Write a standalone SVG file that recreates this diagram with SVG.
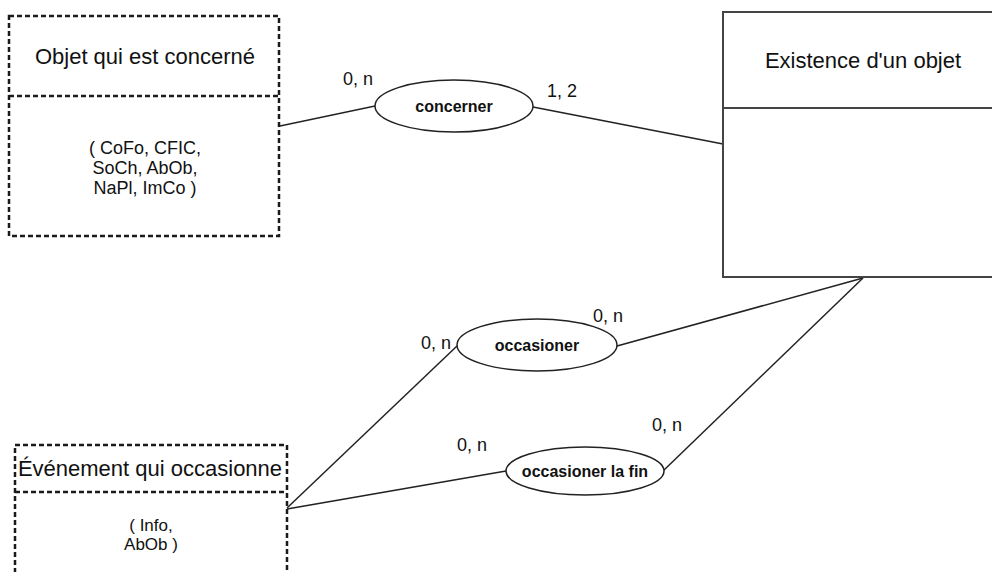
<svg xmlns="http://www.w3.org/2000/svg" width="992" height="572" viewBox="0 0 992 572">
<style>
  .dash { fill: none; stroke: #1a1a1a; stroke-width: 2.5; stroke-dasharray: 5 3; }
  .ent { fill: #fff; stroke: #444; stroke-width: 2; }
  .rel { fill: #fff; stroke: #222; stroke-width: 1.5; }
  .conn line { stroke: #222; stroke-width: 1.5; }
  text { font-family: "Liberation Sans", Arial, sans-serif; fill: #111; }
  .title { font-size: 22px; text-anchor: middle; }
  .attr { font-size: 18px; text-anchor: middle; }
  .attr2 { font-size: 17px; text-anchor: middle; }
  .rlab { font-size: 16px; font-weight: bold; text-anchor: middle; }
  .card { font-size: 18px; }
</style>
<rect width="992" height="572" fill="#fff"/>
<g class="conn" id="connectors">
  <line x1="280" y1="126" x2="375" y2="106"/>
  <line x1="533" y1="107" x2="723" y2="144"/>
  <line x1="287" y1="508" x2="457" y2="346"/>
  <line x1="287" y1="509" x2="506" y2="471"/>
  <line x1="617" y1="346" x2="863" y2="278"/>
  <line x1="663" y1="471" x2="863" y2="278"/>
</g>
<g id="objet-concerne">
  <rect class="dash" x="9" y="16" width="270" height="220"/>
  <line class="dash" x1="9" y1="96" x2="279" y2="96"/>
  <text class="title" x="145" y="64">Objet qui est concerné</text>
  <text class="attr" x="145" y="154">( CoFo, CFIC,</text>
  <text class="attr" x="145" y="174">SoCh, AbOb,</text>
  <text class="attr" x="145" y="194">NaPl, ImCo )</text>
</g>
<g id="existence">
  <rect class="ent" x="723" y="12" width="290" height="265"/>
  <line class="ent" x1="723" y1="108" x2="1000" y2="108"/>
  <text class="title" x="863" y="68">Existence d'un objet</text>
</g>
<g id="evenement">
  <rect class="dash" x="15" y="445" width="272" height="140"/>
  <line class="dash" x1="15" y1="492" x2="287" y2="492"/>
  <text class="title" x="150" y="476">Événement qui occasionne</text>
  <text class="attr2" x="151" y="531">( Info,</text>
  <text class="attr2" x="151" y="550">AbOb )</text>
</g>
<g id="concerner">
  <ellipse class="rel" cx="454" cy="106" rx="79" ry="26"/>
  <text class="rlab" x="454" y="112">concerner</text>
</g>
<g id="occasioner">
  <ellipse class="rel" cx="537" cy="345" rx="80" ry="26"/>
  <text class="rlab" x="537" y="351">occasioner</text>
</g>
<g id="occasioner-la-fin">
  <ellipse class="rel" cx="585" cy="471" rx="79" ry="24"/>
  <text class="rlab" x="585" y="477">occasioner la fin</text>
</g>
<g id="cardinalities">
  <text class="card" x="343" y="85">0, n</text>
  <text class="card" x="547" y="97">1, 2</text>
  <text class="card" x="421" y="349">0, n</text>
  <text class="card" x="593" y="322">0, n</text>
  <text class="card" x="457" y="451">0, n</text>
  <text class="card" x="652" y="431">0, n</text>
</g>
</svg>
